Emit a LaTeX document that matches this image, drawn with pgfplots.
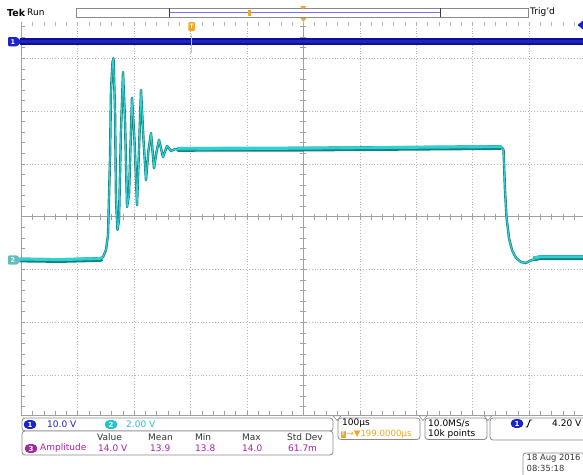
\documentclass[border=0pt]{standalone}
\usepackage{fontspec}
\setmainfont{DejaVu Sans}
\usepackage{pgfplots}
\pgfplotsset{compat=1.18}
\usepackage{pgfplotstable}

\definecolor{chone}{HTML}{1A24C8}
\definecolor{chonedark}{HTML}{10108E}
\definecolor{chtwo}{HTML}{2ED2D2}
\definecolor{chtwodark}{HTML}{14807F}
\definecolor{chtwotext}{HTML}{22C4D0}
\definecolor{tekorange}{HTML}{F5A623}
\definecolor{tekmag}{HTML}{B31AB3}
\definecolor{tekpurple}{HTML}{9C2C9C}
\definecolor{gridgray}{HTML}{A0A0A0}
\definecolor{dotgray}{HTML}{B4B4B4}
\definecolor{boxgray}{HTML}{8A8A8A}
\definecolor{txtgray}{HTML}{333333}
\definecolor{marktwo}{HTML}{62BDBD}

% channel 2 trace: time (us, relative to trigger), volts (2 V/div)
\pgfplotstableread{
t V
-303.8 0.00
-232.9 -0.02
-162.0 0.02
-156.7 0.11
-151.4 0.38
-147.8 0.95
-144.3 3.79
-142.5 6.44
-139.8 7.50
-138.1 7.65
-135.4 5.68
-133.6 2.27
-131.0 1.14
-128.3 1.52
-124.8 4.92
-121.2 7.12
-117.7 5.30
-114.1 2.01
-110.6 2.46
-105.3 6.14
-100.9 4.55
-96.4 2.08
-92.9 4.17
-89.3 6.44
-84.9 4.55
-80.5 3.03
-76.0 4.17
-71.6 4.81
-66.3 3.48
-61.8 4.09
-57.4 4.55
-50.3 3.90
-43.2 4.32
-36.2 4.13
-29.1 4.20
-20.2 4.17
192.5 4.20
550.5 4.26
553.2 4.17
555.8 2.65
558.5 1.63
562.9 0.83
568.2 0.38
575.3 0.08
584.2 -0.08
593.0 -0.11
603.7 0.00
617.9 0.09
694.1 0.09
}\tracetwo

\pgfplotstableread{
t V
-303.8 0.00
-232.9 -0.02
-162.0 0.02
-158.0 0.05
}\bandleft
\pgfplotstableread{
t V
-25.0 4.19
192.5 4.20
549.5 4.26
}\bandtop
\pgfplotstableread{
t V
606.0 0.04
617.9 0.09
694.1 0.09
}\bandright

% channel 1 trace: time (us), volts (10 V/div)
\pgfplotstableread{
t V
-303.8 0
-1.2 0
}\traceoneA
\pgfplotstableread{
t V
1.6 0
694.1 0
}\traceoneB

\tikzset{
  badge/.style={fill=#1, text=white, rounded corners=4.2pt, inner sep=0pt,
    minimum width=12.5pt, minimum height=8.6pt,
    font=\fontsize{7}{7}\selectfont\bfseries},
  panel/.style={draw=boxgray, line width=0.8pt, rounded corners=3pt, fill=white},
  txt/.style={anchor=west, inner sep=0pt, font=\fontsize{9}{10}\selectfont},
}

\begin{document}
\begin{tikzpicture}
\begin{axis}[
  scale only axis, width=583pt, height=474pt,
  xmin=0, xmax=583, ymin=0, ymax=474, y dir=reverse,
  hide axis, clip=true,
]
\coordinate (bl) at (axis cs:0,474);
\coordinate (tr) at (axis cs:583,0);

% ---- graticule ----
\pgfplotsinvokeforeach{1,2,3,4,6,7,8,9}{
  \draw[dotgray, line width=0.55pt, dash pattern=on 0.55pt off 2.3pt]
    ({21.3+56.42*#1},22) -- ({21.3+56.42*#1},414);
}
\pgfplotsinvokeforeach{-3,-2,-1,1,2,3}{
  \draw[dotgray, line width=0.55pt, dash pattern=on 0.55pt off 2.3pt]
    (21,{216.7+52.8*#1}) -- (583,{216.7+52.8*#1});
}
% center crosshair
\draw[gridgray, line width=0.7pt] (21,216.7) -- (583,216.7);
\draw[gridgray, line width=0.7pt] (303.4,22) -- (303.4,415);
\pgfplotsinvokeforeach{1,...,50}{
  \draw[gridgray, line width=0.6pt] ({21.3+11.284*#1},213.7) -- ({21.3+11.284*#1},219.7);
  \draw[gridgray, line width=0.6pt] ({21.3+11.284*#1},410.5) -- ({21.3+11.284*#1},415);
  \draw[dotgray, line width=0.6pt] ({21.3+11.284*#1},22) -- ({21.3+11.284*#1},25.5);
}
\pgfplotsinvokeforeach{-18,...,18}{
  \draw[gridgray, line width=0.6pt] (300.4,{216.7+10.56*#1}) -- (306.4,{216.7+10.56*#1});
  \draw[gridgray, line width=0.6pt] (21,{216.7+10.56*#1}) -- (24.5,{216.7+10.56*#1});
}
% borders
\draw[gridgray, line width=0.8pt] (21,22) -- (21,415.5);
\draw[gridgray, line width=1.6pt] (20.5,415.5) -- (583,415.5);

% ---- channel 1 trace ----
\addplot[chonedark, line width=7.5pt] table[x expr={191.4+0.5642*\thisrow{t}}, y expr={41.7-5.28*\thisrow{V}}] {\traceoneA};
\addplot[chonedark, line width=7.5pt] table[x expr={191.4+0.5642*\thisrow{t}}, y expr={41.7-5.28*\thisrow{V}}] {\traceoneB};
\addplot[chone, line width=3.5pt] table[x expr={191.4+0.5642*\thisrow{t}}, y expr={41.7-5.28*\thisrow{V}}] {\traceoneA};
\addplot[chone, line width=3.5pt] table[x expr={191.4+0.5642*\thisrow{t}}, y expr={41.7-5.28*\thisrow{V}}] {\traceoneB};
\draw[blue!25, line width=0.8pt] (191.7,35) -- (191.7,53);

% ---- channel 2 trace ----
\addplot[chtwodark, line width=4.8pt] table[x expr={191.4+0.5642*\thisrow{t}}, y expr={260-26.4*\thisrow{V}}] {\bandleft};
\addplot[chtwodark, line width=4.8pt] table[x expr={191.4+0.5642*\thisrow{t}}, y expr={260-26.4*\thisrow{V}}] {\bandtop};
\addplot[chtwodark, line width=4.8pt] table[x expr={191.4+0.5642*\thisrow{t}}, y expr={260-26.4*\thisrow{V}}] {\bandright};
\addplot[chtwodark, line width=2.4pt, line join=round] table[x expr={191.4+0.5642*\thisrow{t}}, y expr={260-26.4*\thisrow{V}}] {\tracetwo};
\addplot[chtwo, line width=2.2pt] table[x expr={191.4+0.5642*\thisrow{t}}, y expr={258.8-26.4*\thisrow{V}}] {\bandleft};
\addplot[chtwo, line width=2.2pt] table[x expr={191.4+0.5642*\thisrow{t}}, y expr={258.8-26.4*\thisrow{V}}] {\bandtop};
\addplot[chtwo, line width=2.2pt] table[x expr={191.4+0.5642*\thisrow{t}}, y expr={258.8-26.4*\thisrow{V}}] {\bandright};
\addplot[chtwo, line width=1.1pt, line join=round] table[x expr={191.4+0.5642*\thisrow{t}}, y expr={260-26.4*\thisrow{V}}] {\tracetwo};

% ---- top status bar ----
\node[txt, font=\fontsize{9.5}{10}\selectfont\bfseries] at (7,12.5) {Tek};
\node[txt, font=\fontsize{9}{10}\selectfont] at (27,12.5) {Run};
\draw[boxgray, line width=0.7pt, fill=white] (76,8.3) rectangle (528,17.3);
\draw[blue!55, line width=0.8pt] (169,12.7) -- (440,12.7);
\draw[black!75, line width=0.9pt] (169,8.3) -- (169,17.3);
\draw[black!75, line width=0.9pt] (440,8.3) -- (440,17.3);
\fill[tekorange] (247.5,10) rectangle (251,15.5);
\fill[tekorange] (300,6) -- (306.4,6) -- (303.2,9.5) -- cycle;
\fill[tekorange] (300.2,18) -- (306.6,18) -- (303.4,21.8) -- cycle;
\node[txt] at (530,12.5) {Trig'd};

% trigger marker
\node[fill=tekorange, text=white, rounded corners=1pt, inner sep=0pt, minimum width=6.5pt,
  minimum height=9pt, font=\fontsize{6}{6}\selectfont\bfseries] at (191.7,26.5) {T};

% channel ground markers
\fill[chone, rounded corners=1.2pt] (8,37) -- (17,37) -- (21.5,41.7) -- (17,46.4) -- (8,46.4) -- cycle;
\node[text=white, inner sep=0pt, font=\fontsize{6.5}{6.5}\selectfont\bfseries] at (13,41.7) {1};
\fill[marktwo, rounded corners=1.2pt] (8,255.3) -- (17,255.3) -- (21.5,260) -- (17,264.7) -- (8,264.7) -- cycle;
\node[text=white, inner sep=0pt, font=\fontsize{6.5}{6.5}\selectfont\bfseries] at (13,260) {2};
% trigger level marker
\fill[chone] (577.5,25) -- (583,20.5) -- (583,29.5) -- cycle;

% ---- bottom panels ----
\draw[panel] (22,418) rectangle (333,431);
\node[badge=chone] at (30,424.5) {1};
\node[txt, text=chone] at (47,424.5) {10.0 V};
\node[badge=chtwotext] at (111,424.5) {2};
\node[txt, text=chtwotext] at (126,424.5) {2.00 V};

\draw[panel] (22,431) rectangle (333,455);
\node[txt, text=txtgray] at (97,437.5) {Value};
\node[txt, text=txtgray] at (148,437.5) {Mean};
\node[txt, text=txtgray] at (195,437.5) {Min};
\node[txt, text=txtgray] at (242,437.5) {Max};
\node[txt, text=txtgray] at (287,437.5) {Std Dev};
\node[badge=tekpurple] at (31,448.5) {3};
\node[txt, text=tekmag] at (40,448.5) {Amplitude};
\node[txt, text=tekmag] at (98,448.5) {14.0 V};
\node[txt, text=tekmag] at (150,448.5) {13.9};
\node[txt, text=tekmag] at (195,448.5) {13.8};
\node[txt, text=tekmag] at (242,448.5) {14.0};
\node[txt, text=tekmag] at (288,448.5) {61.7m};

\draw[panel] (338,418) rectangle (420,439.5);
\node[txt, text=black] at (342,423.5) {100µs};
\node[fill=tekorange, text=white, inner sep=0pt, minimum width=5pt, minimum height=7pt,
  font=\fontsize{5}{5}\selectfont\bfseries] at (343,434) {T};
\node[txt, text=tekorange, font=\fontsize{8.6}{10}\selectfont] at (346.5,434) {→▼199.0000µs};

\draw[panel] (425,418) rectangle (487,439.5);
\node[txt, text=black] at (428,423.5) {10.0MS/s};
\node[txt, text=black] at (428,434) {10k points};

\draw[panel] (490,418) rectangle (592,440);
\node[badge=chone] at (517,423.5) {1};
\draw[black, line width=0.9pt] (525.5,427) -- (527.3,427) -- (530,420) -- (532,420);
\node[txt, text=black] at (552,423.5) {4.20 V};

\draw[panel] (523,453) rectangle (595,480);
\node[txt, text=txtgray, font=\fontsize{8.4}{10}\selectfont] at (526.5,458.5) {18 Aug 2016};
\node[txt, text=txtgray, font=\fontsize{8.4}{10}\selectfont] at (526.5,468.5) {08:35:18};

% white tabs under the graticule
\pgfplotsinvokeforeach{337,423,488}{
  \draw[boxgray, fill=white, line width=0.6pt] ({#1-4},415.8) -- ({#1+4},415.8) -- (#1,420.5) -- cycle;
}
\end{axis}
\pgfresetboundingbox
\path[use as bounding box] (bl) rectangle (tr);
\end{tikzpicture}
\end{document}
